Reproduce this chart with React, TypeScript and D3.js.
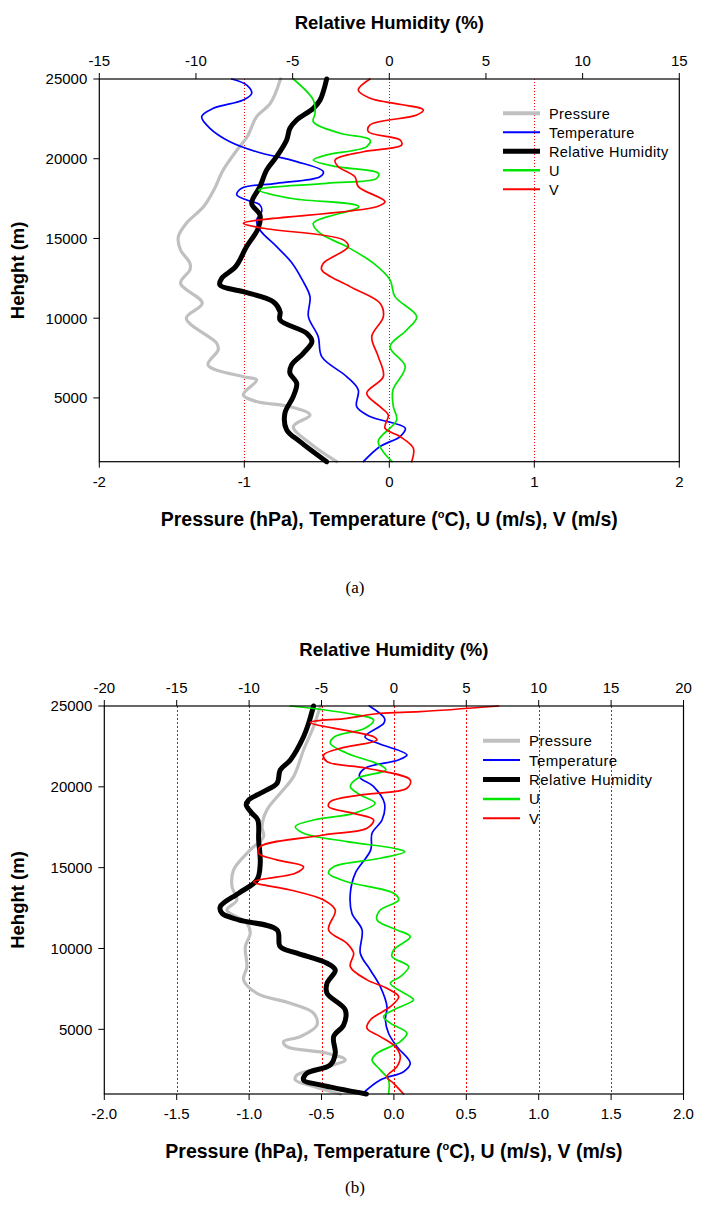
import React from "react";
import * as d3 from "d3";

// ---------- DATA (height m, value) ----------
// Panel (a)
const aPressure: [number, number][] = [
  [25000, -0.75], [23480, -0.82], [22640, -0.915], [21380, -0.98], [20550, -1.05],
  [19300, -1.145], [18040, -1.21], [17000, -1.28], [15950, -1.4], [15110, -1.455],
  [14280, -1.44], [13450, -1.375], [13030, -1.375], [12190, -1.44], [10940, -1.29],
  [10000, -1.4], [8430, -1.19], [8010, -1.18], [7070, -1.25], [6330, -1.007],
  [6130, -0.915], [5190, -1.007], [4770, -0.915], [4450, -0.685], [3930, -0.547],
  [3200, -0.662], [2160, -0.547], [1000, -0.363],
];
const aTemperature: [number, number][] = [
  [25000, -1.087], [24620, -0.983], [24100, -0.949], [23680, -1.007], [23160, -1.214],
  [22640, -1.294], [21910, -1.237], [21070, -1.099], [20440, -0.915], [19820, -0.639],
  [19190, -0.455], [18870, -0.478], [18460, -0.777], [18150, -1.018], [17730, -1.052],
  [17410, -0.983], [17100, -0.892], [16680, -0.88], [16160, -0.915], [15530, -0.892],
  [14490, -0.777], [13450, -0.67], [12400, -0.6], [11350, -0.547], [10100, -0.558],
  [8840, -0.49], [7590, -0.466], [6340, -0.294], [5500, -0.214], [4450, -0.225],
  [3830, -0.133], [3100, 0.11], [2580, 0.074], [1950, -0.064], [1000, -0.179],
];
const aHumidity: [number, number][] = [
  [25000, -3.24], [23680, -3.58], [23160, -3.93], [22430, -4.79], [21910, -5.14],
  [21180, -5.31], [20130, -5.83], [19300, -6.34], [18250, -6.69], [17200, -7.12],
  [16470, -6.69], [15640, -6.78], [14490, -7.38], [13230, -7.95], [12500, -8.67],
  [12080, -8.76], [11660, -7.55], [11030, -6.0], [10410, -5.65], [9890, -5.65],
  [9050, -4.27], [8530, -4.0], [7800, -4.45], [7070, -5.05], [6550, -5.14],
  [5920, -4.79], [5080, -4.97], [4040, -5.4], [3000, -5.31], [2260, -4.62],
  [1000, -3.24],
];
const aU: [number, number][] = [
  [25000, -0.662], [23680, -0.524], [22850, -0.512], [22320, -0.524], [21600, -0.34],
  [21180, -0.133], [20760, -0.156], [20240, -0.432], [19920, -0.524], [19500, -0.363],
  [19090, -0.076], [18770, -0.087], [18460, -0.432], [18040, -0.9], [17520, -0.685],
  [16990, -0.21], [15950, -0.524], [15330, -0.478], [14490, -0.294], [13450, -0.11],
  [12400, 0.005], [11350, 0.039], [10100, 0.189], [9260, 0.12], [8210, 0.005],
  [6960, 0.11], [5500, 0.025], [4450, 0.028], [3620, 0.051], [2300, -0.076],
  [1600, -0.04], [1000, 0.02],
];
const aV: [number, number][] = [
  [25000, -0.133], [24310, -0.214], [23790, -0.133], [23060, 0.235], [22740, 0.189],
  [22120, -0.133], [21700, -0.145], [21180, 0.074], [20860, 0.085], [20440, -0.179],
  [19920, -0.374], [19500, -0.352], [18870, -0.237], [18250, -0.214], [17310, -0.03],
  [16990, -0.087], [15950, -1.007], [15640, -0.869], [14910, -0.317], [14490, -0.283],
  [13450, -0.455], [13030, -0.466], [11980, -0.271], [10940, -0.064], [10100, -0.041],
  [8840, -0.121], [7590, -0.076], [6340, -0.041], [5290, -0.156], [4450, -0.064],
  [3930, -0.007], [3100, -0.03], [2580, 0.074], [1840, 0.166], [1000, 0.154],
];

// Panel (b)
const bPressure: [number, number][] = [
  [25000, -0.508], [23720, -0.555], [22280, -0.624], [20630, -0.693], [19600, -0.785],
  [18570, -0.877], [17540, -0.911], [16920, -0.9], [16100, -0.992], [14860, -1.107],
  [13830, -1.118], [13000, -1.084], [12380, -1.153], [11560, -1.015], [10940, -0.992],
  [10110, -1.026], [8880, -1.015], [8060, -1.038], [7230, -0.946], [6610, -0.715],
  [6000, -0.555], [5270, -0.531], [4550, -0.646], [4240, -0.762], [3930, -0.739],
  [3520, -0.462], [3110, -0.336], [2690, -0.462], [2180, -0.669], [1870, -0.681],
  [1460, -0.555], [1000, -0.37],
];
const bTemperature: [number, number][] = [
  [25000, -0.17], [24240, -0.065], [23930, -0.07], [23100, -0.2], [22690, -0.11],
  [21970, 0.09], [21660, 0.03], [21150, -0.2], [20630, -0.238], [20010, -0.14],
  [18980, -0.065], [17950, -0.082], [17130, -0.151], [16100, -0.16], [14650, -0.267],
  [13420, -0.301], [12180, -0.29], [11150, -0.22], [9710, -0.232], [8670, -0.163],
  [7640, -0.094], [6400, -0.048], [5580, -0.059], [4760, -0.037], [3930, 0.021],
  [2900, 0.113], [2380, 0.067], [1870, -0.094], [1000, -0.22],
];
const bHumidity: [number, number][] = [
  [25000, -5.55], [23930, -5.89], [23100, -6.24], [21660, -7.15], [21040, -7.85],
  [20220, -8.07], [19700, -9.0], [19190, -10.03], [18880, -10.2], [18360, -9.8],
  [17950, -9.4], [16710, -9.34], [15270, -9.23], [14240, -9.46], [13420, -10.72],
  [12590, -11.99], [12180, -11.87], [11770, -10.72], [11150, -8.07], [10110, -7.85],
  [9710, -6.69], [9090, -4.62], [8670, -4.05], [7850, -4.62], [7230, -4.62],
  [6200, -3.36], [5270, -3.47], [4550, -4.16], [3520, -4.05], [2800, -4.39],
  [2290, -6.0], [1870, -6.24], [1560, -5.08], [1000, -1.9],
];
const bU: [number, number][] = [
  [25000, -0.715], [24550, -0.324], [24130, -0.14], [23620, -0.2], [23100, -0.41],
  [22690, -0.439], [22080, -0.324], [21350, -0.094], [21040, -0.055], [20530, -0.25],
  [20010, -0.301], [19500, -0.232], [18980, -0.13], [18360, -0.278], [17950, -0.555],
  [17540, -0.681], [17130, -0.624], [16610, -0.324], [16200, -0.002], [15990, 0.075],
  [15580, -0.094], [15060, -0.416], [14650, -0.451], [14130, -0.324], [13420, -0.002],
  [13000, 0.033], [12380, -0.094], [11770, -0.117], [11150, 0.021], [10730, 0.113],
  [9910, -0.002], [9500, -0.013], [8880, 0.102], [8260, 0.044], [7850, -0.025],
  [7020, 0.113], [6820, 0.136], [6200, -0.002], [5790, -0.071], [5380, -0.025],
  [4760, 0.09], [4240, 0.044], [3520, -0.117], [3110, -0.151], [2490, -0.094],
  [1870, -0.037], [1000, -0.037],
];
const bV: [number, number][] = [
  [25000, 0.723], [24650, 0.18], [24550, -0.094], [24240, -0.324], [23980, -0.577],
  [23100, -0.14], [22900, -0.117], [22380, -0.37], [21970, -0.485], [21560, -0.462],
  [21150, -0.186], [20420, 0.113], [19910, 0.09], [19500, -0.232], [19080, -0.439],
  [18770, -0.451], [18360, -0.278], [17950, -0.14], [17440, -0.186], [17020, -0.485],
  [16300, -0.923], [15890, -0.935], [15480, -0.808], [15060, -0.624], [14650, -0.681],
  [14130, -0.969], [13620, -0.715], [13000, -0.485], [12380, -0.405], [11150, -0.451],
  [10320, -0.324], [9710, -0.278], [8880, -0.301], [8060, -0.186], [7540, -0.048],
  [7020, 0.033], [6400, -0.025], [5580, -0.163], [5070, -0.186], [4550, -0.094],
  [3930, 0.01], [3310, 0.044], [2690, 0.021], [2070, -0.048], [1660, -0.002],
  [1000, 0.067],
];

// ---------- AXES / LABELS ----------
const heightTicks = [5000, 10000, 15000, 20000, 25000];
const aBottomTicks = [-2, -1, 0, 1, 2];
const aTopTicks = [-15, -10, -5, 0, 5, 10, 15];
const aGrid = [-1, 0, 1];
const bBottomTicks = [-2.0, -1.5, -1.0, -0.5, 0.0, 0.5, 1.0, 1.5, 2.0];
const bTopTicks = [-20, -15, -10, -5, 0, 5, 10, 15, 20];
const bGrid = [-1.5, -1.0, -0.5, 0.0, 0.5, 1.0, 1.5];
const seriesNames = ["Pressure", "Temperature", "Relative Humidity", "U", "V"];
const topTitle = "Relative Humidity (%)";
const yTitle = "Hehght (m)";

const styles = [
  { color: "#c0c0c0", width: 3.2, legendWidth: 4 },
  { color: "#0000ff", width: 1.7, legendWidth: 2 },
  { color: "#000000", width: 5, legendWidth: 5 },
  { color: "#00e600", width: 1.7, legendWidth: 2.5 },
  { color: "#ff0000", width: 1.7, legendWidth: 2 },
];

const FONT = "'Liberation Sans', Arial, sans-serif";

type PanelProps = {
  top: number; bottom: number; left: number; right: number;
  topDomain: [number, number]; topTicks: number[];
  bottomTicks: number[]; grid: number[]; gridDash: string; fmt: (v: number) => string;
  series: [number, number][][]; legendX: number; legendY: number; legendStep: number;
  legendFont: number; caption: string; captionY: number;
};

function Panel(p: PanelProps) {
  const x = d3.scaleLinear().domain([-2, 2]).range([p.left, p.right]);
  const xr = d3.scaleLinear().domain(p.topDomain).range([p.left, p.right]);
  const y = d3.scaleLinear().domain([1000, 25000]).range([p.bottom, p.top]);
  const mkLine = (sc: d3.ScaleLinear<number, number>) =>
    d3.line<[number, number]>().x((d) => sc(d[1])).y((d) => y(d[0])).curve(d3.curveCatmullRom.alpha(0.5));
  const midX = (p.left + p.right) / 2;
  const midY = (p.top + p.bottom) / 2;
  return (
    <g fontFamily={FONT}>
      {p.grid.map((g) => (
        <line key={"g" + g} x1={Math.round(x(g)) + 0.5} x2={Math.round(x(g)) + 0.5} y1={p.top} y2={p.bottom}
          stroke="#ff0000" strokeWidth={1} strokeDasharray={p.gridDash} />
      ))}
      {p.series.map((s, i) => (
        <path key={"s" + i} d={mkLine(i === 2 ? xr : x)(s) || ""} fill="none"
          stroke={styles[i].color} strokeWidth={styles[i].width}
          strokeLinejoin="round" strokeLinecap="round" />
      ))}
      {/* frame */}
      <rect x={p.left} y={p.top} width={p.right - p.left} height={p.bottom - p.top}
        fill="none" stroke="#000" strokeWidth={1.2} />
      {/* left axis */}
      {heightTicks.map((t) => (
        <g key={"h" + t}>
          <line x1={p.left - 6} x2={p.left} y1={y(t)} y2={y(t)} stroke="#000" />
          <text x={p.left - 12} y={y(t)} dy="0.36em" textAnchor="end" fontSize={15}>{t}</text>
        </g>
      ))}
      {/* bottom axis */}
      {p.bottomTicks.map((t) => (
        <g key={"b" + t}>
          <line x1={x(t)} x2={x(t)} y1={p.bottom} y2={p.bottom + 6} stroke="#000" />
          <text x={x(t)} y={p.bottom + 25} textAnchor="middle" fontSize={15}>{p.fmt(t)}</text>
        </g>
      ))}
      {/* top axis */}
      {p.topTicks.map((t) => (
        <g key={"t" + t}>
          <line x1={xr(t)} x2={xr(t)} y1={p.top - 6} y2={p.top} stroke="#000" />
          <text x={xr(t)} y={p.top - 13} textAnchor="middle" fontSize={15}>{t}</text>
        </g>
      ))}
      <text x={midX} y={p.top - 50} textAnchor="middle" fontSize={18.5} fontWeight="bold">{topTitle}</text>
      <text x={midX} y={p.bottom + 64} textAnchor="middle" fontSize={19.5} fontWeight="bold">
        Pressure (hPa), Temperature (<tspan fontSize={11} dy={-8}>o</tspan><tspan dy={8}>C), U (m/s), V (m/s)</tspan>
      </text>
      <text transform={`translate(24,${midY}) rotate(-90)`} textAnchor="middle" fontSize={18.5} fontWeight="bold">{yTitle}</text>
      {/* legend */}
      {seriesNames.map((n, i) => (
        <g key={"l" + i}>
          <line x1={p.legendX} x2={p.legendX + 37} y1={p.legendY + i * p.legendStep} y2={p.legendY + i * p.legendStep}
            stroke={styles[i].color} strokeWidth={styles[i].legendWidth} />
          <text x={p.legendX + 46} y={p.legendY + i * p.legendStep} dy="0.36em" fontSize={p.legendFont}
            letterSpacing={0.4}>{n}</text>
        </g>
      ))}
      <text x={355} y={p.captionY} textAnchor="middle" fontFamily="'Liberation Serif', 'Times New Roman', serif" fontSize={17}>{p.caption}</text>
    </g>
  );
}

export default function App() {
  return (
    <svg width={708} height={1211} style={{ position: "absolute", left: 0, top: 0, background: "#fff" }}>
      <rect width={708} height={1211} fill="#fff" />
      <Panel top={79} bottom={461.7} left={99.3} right={679.3} topDomain={[-15, 15]} topTicks={aTopTicks}
        bottomTicks={aBottomTicks} grid={aGrid} gridDash="1 2" fmt={(v) => String(v)}
        series={[aPressure, aTemperature, aHumidity, aU, aV]}
        legendX={503} legendY={113.3} legendStep={19} legendFont={14.5} caption="(a)" captionY={593} />
      <Panel top={706} bottom={1094} left={104.3} right={683.5} topDomain={[-20, 20]} topTicks={bTopTicks}
        bottomTicks={bBottomTicks} grid={bGrid} gridDash="2 2" fmt={(v) => v.toFixed(1)}
        series={[bPressure, bTemperature, bHumidity, bU, bV]}
        legendX={483} legendY={740.7} legendStep={19.4} legendFont={15} caption="(b)" captionY={1193} />
    </svg>
  );
}
